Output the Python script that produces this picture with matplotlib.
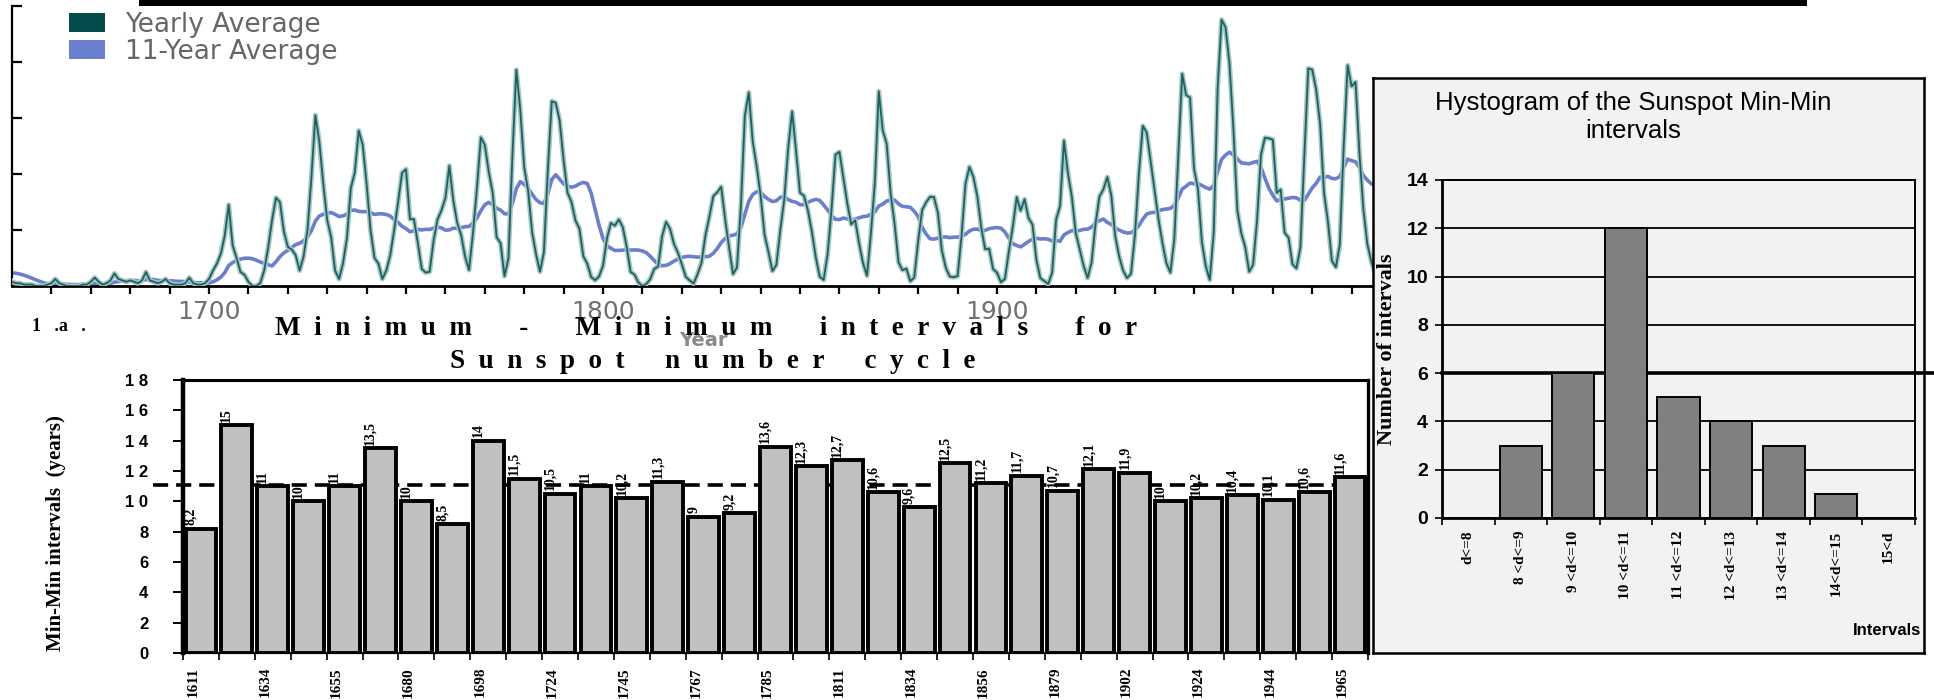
#!/usr/bin/env python3
import matplotlib
matplotlib.use("Agg")
import matplotlib.pyplot as plt
import numpy as np
import pandas as pd
from matplotlib.patches import Patch, Rectangle

FIG_W, FIG_H = 1934, 700

# yearly sunspot numbers, one row per decade, starting 1640
START_YEAR = 1640
YEARLY = [
    6, 8, 10, 12, 13, 13, 12, 11, 9, 7,
    3, 2, 2, 1, 1, 1, 0, 0, 0, 1,
    2, 5, 2, 1, 0, 0, 0, 0, 1, 1,
    3, 6, 3, 1, 2, 4, 9, 5, 4, 3,
    4, 3, 2, 4, 10, 4, 3, 2, 3, 5,
    2, 1, 1, 1, 2, 6, 2, 1, 1, 2,
    5, 11, 16, 23, 36, 58, 29, 20, 10, 8,
    3, 0, 0, 2, 11, 27, 47, 63, 60, 39,
    28, 26, 22, 11, 21, 40, 78, 122, 103, 73,
    47, 35, 11, 5, 16, 34, 70, 81, 111, 101,
    73, 40, 20, 16, 5, 11, 22, 40, 60, 80.9,
    83.4, 47.7, 47.8, 30.7, 12.2, 9.6, 10.2, 32.4, 47.6, 54.0,
    62.9, 85.9, 61.2, 45.1, 36.4, 20.9, 11.4, 37.8, 69.8, 106.1,
    100.8, 81.6, 66.5, 34.8, 30.6, 7.0, 19.8, 92.5, 154.4, 125.9,
    84.8, 68.1, 38.5, 22.8, 10.2, 24.1, 82.9, 132.0, 130.9, 118.1,
    89.9, 66.6, 60.0, 46.9, 41.0, 21.3, 16.0, 6.4, 4.1, 6.8,
    14.5, 34.0, 45.0, 43.1, 47.5, 42.2, 28.1, 10.1, 8.1, 2.5,
    0.0, 1.4, 5.0, 12.2, 13.9, 35.4, 45.8, 41.0, 30.1, 23.9,
    15.6, 6.6, 4.0, 1.8, 8.5, 16.6, 36.3, 49.6, 64.2, 67.0,
    70.9, 47.8, 27.5, 8.5, 13.2, 56.9, 121.5, 138.3, 103.2, 85.7,
    64.6, 36.7, 24.2, 10.7, 15.0, 40.1, 61.5, 98.5, 124.7, 96.3,
    66.6, 64.5, 54.1, 39.0, 20.6, 6.7, 4.3, 22.7, 54.8, 93.8,
    95.8, 77.2, 59.1, 44.0, 47.0, 30.5, 16.3, 7.3, 37.6, 74.0,
    139.0, 111.2, 101.6, 66.2, 44.7, 17.0, 11.3, 12.4, 3.4, 6.0,
    32.3, 54.3, 59.7, 63.7, 63.5, 52.2, 25.4, 13.1, 6.8, 6.3,
    7.1, 35.6, 73.0, 85.1, 78.0, 64.0, 41.8, 26.2, 26.7, 12.1,
    9.5, 2.7, 5.0, 24.4, 42.0, 63.5, 53.8, 62.0, 48.5, 43.9,
    18.6, 5.7, 3.6, 1.4, 9.6, 47.4, 57.1, 103.9, 80.6, 63.6,
    37.6, 26.1, 14.2, 5.8, 16.7, 44.3, 63.9, 69.0, 77.8, 64.9,
    35.7, 21.2, 11.1, 5.7, 8.7, 36.1, 79.7, 114.4, 109.6, 88.8,
    67.8, 47.5, 30.6, 16.3, 9.6, 33.2, 92.6, 151.6, 136.3, 134.7,
    83.9, 69.4, 31.5, 13.9, 4.4, 38.0, 141.7, 190.2, 184.8, 159.0,
    112.3, 53.9, 37.6, 27.9, 10.2, 15.1, 47.0, 93.8, 105.9, 105.5,
    104.5, 66.6, 68.9, 38.0, 34.5, 15.5, 12.6, 27.5, 92.5, 155.4,
    154.6, 140.4, 115.9, 66.6, 45.9, 17.9, 13.4, 29.4, 100.2, 157.6,
    142.6, 145.7, 94.3, 54.6, 29.9, 17.5, 8.6, 21.5, 64.3, 93.3,
    119.6,
]
AVG_WINDOW = 11
TOP_XTICKS = [1700, 1800, 1900]
LEGEND_LABELS = ["Yearly Average", "11-Year Average"]

# min-min intervals of the sunspot cycle
INTERVALS = [8.2, 15, 11, 10, 11, 13.5, 10, 8.5, 14, 11.5, 10.5, 11, 10.2,
             11.3, 9, 9.2, 13.6, 12.3, 12.7, 10.6, 9.6, 12.5, 11.2, 11.7,
             10.7, 12.1, 11.9, 10, 10.2, 10.4, 10.1, 10.6, 11.6]
CYCLE_LABELS = ["1611", "1634", "1655", "1680", "1698", "1724", "1745",
                "1767", "1785", "1811", "1834", "1856", "1879", "1902",
                "1924", "1944", "1965"]
MEAN_INTERVAL = 11.1
BAR_YTICKS = [0, 2, 4, 6, 8, 10, 12, 14, 16, 18]
BAR_YLABELS = ["0", "2", "4", "6", "8", "1 0", "1 2", "1 4", "1 6", "1 8"]
TITLE_LINE1 = ("M  i  n  i  m  u  m       -       M  i  n  i  m  u  m"
               "       i  n  t  e  r  v  a  l  s       f  o  r")
TITLE_LINE2 = "S  u  n  s  p  o  t      n  u  m  b  e  r      c  y  c  l  e"
PANEL_TAG = "1   .a   ."

# histogram of the intervals
HIST_BINS = ["d<=8", "8 <d<=9", "9 <d<=10", "10 <d<=11", "11 <d<=12",
             "12 <d<=13", "13 <d<=14", "14<d<=15", "15<d"]
HIST_COUNTS = [0, 3, 6, 12, 5, 4, 3, 1, 0]
HIST_TITLE = "Hystogram of the Sunspot Min-Min\nintervals"

SERIF = "Liberation Serif"
SANS = "Liberation Sans"


def px_rect(left, top, right, bottom):
    return [left / FIG_W, 1 - bottom / FIG_H,
            (right - left) / FIG_W, (bottom - top) / FIG_H]


def px_point(x, y):
    return x / FIG_W, 1 - y / FIG_H


def draw_sunspot_series(fig):
    ax = fig.add_axes(px_rect(12, 6, 1391, 286))
    years = np.arange(START_YEAR, START_YEAR + len(YEARLY))
    yearly = pd.Series(YEARLY, index=years, dtype=float)
    # trailing 11-year mean, as in the original plot
    avg = yearly.rolling(AVG_WINDOW).mean()

    ax.plot(years, avg, color="#6b7fd0", lw=2.6, zorder=2)
    ax.plot(years, yearly, color="#a5c6c3", lw=3.6, zorder=3)
    ax.plot(years, yearly, color="#1a6262", lw=1.3, zorder=4)

    ax.set_xlim(1650, 2000)
    ax.set_ylim(0, 200)
    ax.set_xticks(TOP_XTICKS)
    ax.set_xticks(np.arange(1660, 2000, 10), minor=True)
    ax.set_yticks(np.arange(0, 201, 40))
    ax.set_yticklabels([])
    ax.tick_params(axis="x", which="both", direction="out", length=6,
                   width=1.6, color="black", pad=4, labelsize=18,
                   labelcolor="#707070")
    ax.tick_params(axis="y", direction="in", length=7, width=1.6)
    for lab in ax.get_xticklabels():
        lab.set_family("DejaVu Sans")
    for side in ("top", "right"):
        ax.spines[side].set_visible(False)
    ax.spines["left"].set_linewidth(1.6)
    ax.spines["bottom"].set_linewidth(2)

    handles = [Patch(facecolor="#034c4c"), Patch(facecolor="#6b7fd0")]
    ax.legend(handles, LEGEND_LABELS, loc="upper left",
              bbox_to_anchor=px_point(69, 12), bbox_transform=fig.transFigure,
              frameon=False, borderpad=0, borderaxespad=0,
              handlelength=1.36, handleheight=0.72, handletextpad=0.76,
              labelspacing=0.02, labelcolor="#666666",
              prop={"family": "DejaVu Sans", "size": 19})

    # black strip at the very top (remains of a cut title bar)
    fig.patches.append(Rectangle(px_point(139, 6), (1807 - 139) / FIG_W,
                                 6 / FIG_H, transform=fig.transFigure,
                                 facecolor="black", edgecolor="none",
                                 zorder=10))
    fig.text(*px_point(703, 341), "Year", ha="center", va="center",
             fontsize=14, fontweight="bold", color="#8a8a8a",
             family="DejaVu Sans")


def draw_interval_bars(fig):
    ax = fig.add_axes(px_rect(183, 380, 1368, 653))
    x = np.arange(len(INTERVALS))

    ax.axhline(MEAN_INTERVAL, xmin=-0.025, xmax=1, color="black", lw=2.6,
               dashes=(4.2, 2.2), clip_on=False, zorder=1)
    ax.bar(x, INTERVALS, width=0.86, color="#c0c0c0", edgecolor="black",
           linewidth=2.8, zorder=2)

    for xi, v in zip(x, INTERVALS):
        ax.text(xi - 0.28, v + 0.22, f"{v:g}".replace(".", ","), rotation=90,
                ha="center", va="bottom", fontsize=10, fontweight="bold",
                family=SERIF, zorder=3)

    ax.set_xlim(-0.5, len(INTERVALS) - 0.5)
    ax.set_ylim(0, 18)
    ax.set_yticks(BAR_YTICKS)
    ax.set_yticklabels(BAR_YLABELS, fontsize=12, fontweight="bold",
                       family=SANS)
    ax.set_xticks(np.arange(-0.5, len(INTERVALS) + 0.5, 1))
    ax.set_xticklabels([])
    ax.set_xticks(np.arange(-0.5, len(INTERVALS), 2) + 0.28, minor=True)
    ax.set_xticklabels(CYCLE_LABELS, minor=True, rotation=90,
                       fontsize=11, fontweight="bold", family=SERIF)
    ax.tick_params(axis="y", direction="out", length=7, width=1.4, pad=18)
    ax.tick_params(axis="x", which="major", direction="out", length=5,
                   width=1.2)
    ax.tick_params(axis="x", which="minor", length=0, pad=10)

    ax.spines["left"].set_linewidth(3.2)
    ax.spines["top"].set_linewidth(2.2)
    ax.spines["right"].set_linewidth(2.4)
    ax.spines["bottom"].set_linewidth(1.6)

    ax.set_ylabel("Min-Min intervals  (years)", fontsize=15,
                  fontweight="bold", family=SERIF)
    ax.yaxis.set_label_coords(-0.099, 0.44)

    fig.text(*px_point(706, 328), TITLE_LINE1, ha="center", va="center",
             fontsize=19.5, fontweight="bold", family=SERIF)
    fig.text(*px_point(713, 362), TITLE_LINE2, ha="center", va="center",
             fontsize=19.5, fontweight="bold", family=SERIF)
    fig.text(*px_point(32, 327), PANEL_TAG, ha="left", va="center",
             fontsize=13, fontweight="bold", family=SERIF)


def draw_histogram(fig):
    box = fig.add_axes(px_rect(1373, 78, 1924, 653))
    box.set_zorder(5)
    box.set_facecolor("#f2f2f2")
    box.set_xticks([])
    box.set_yticks([])
    for sp in box.spines.values():
        sp.set_linewidth(1.8)

    ax = fig.add_axes(px_rect(1442, 180, 1915, 518))
    ax.set_zorder(6)
    ax.set_facecolor("#f2f2f2")
    x = np.arange(len(HIST_COUNTS))
    ax.bar(x, HIST_COUNTS, width=0.8, color="#808080", edgecolor="black",
           linewidth=1.4, zorder=3)

    ax.set_xlim(-0.5, len(HIST_COUNTS) - 0.5)
    ax.set_ylim(0, 14)
    ax.set_yticks(np.arange(0, 15, 2))
    ax.set_yticklabels([str(v) for v in range(0, 15, 2)], fontsize=14,
                       fontweight="bold", family=SANS)
    ax.yaxis.grid(True, color="black", lw=1.3)
    ax.set_axisbelow(True)
    ax.axhline(6, xmin=0, xmax=1.04, color="black", lw=2.6, clip_on=False,
               zorder=2)

    ax.set_xticks(np.arange(-0.5, len(HIST_COUNTS) + 0.5, 1))
    ax.set_xticklabels([])
    ax.set_xticks(x, minor=True)
    ax.set_xticklabels(HIST_BINS, minor=True, rotation=90, fontsize=11,
                       fontweight="bold", family=SERIF)
    ax.tick_params(axis="x", which="major", direction="out", length=5,
                   width=1.2)
    ax.tick_params(axis="x", which="minor", length=0, pad=9)
    ax.tick_params(axis="y", direction="out", length=5, width=1.2, pad=5)
    for sp in ax.spines.values():
        sp.set_linewidth(1.4)
    ax.spines["left"].set_linewidth(2)
    ax.spines["bottom"].set_linewidth(2)

    ax.set_ylabel("Number of intervals", fontsize=16, fontweight="bold",
                  family=SERIF)
    ax.yaxis.set_label_coords(-0.096, 0.5)
    ax.set_xlabel("Intervals", loc="right", fontsize=12, fontweight="bold",
                  family=SANS)
    ax.xaxis.set_label_coords(1.012, -0.31)

    box.text(0.472, 0.978, HIST_TITLE, transform=box.transAxes, ha="center",
             va="top", fontsize=18.5, family=SANS, linespacing=1.25)


def main():
    fig = plt.figure(figsize=(FIG_W / 100, FIG_H / 100), dpi=100)
    fig.patch.set_facecolor("white")
    draw_sunspot_series(fig)
    draw_interval_bars(fig)
    draw_histogram(fig)
    fig.savefig("out.png", dpi=100, facecolor="white")


if __name__ == "__main__":
    main()
